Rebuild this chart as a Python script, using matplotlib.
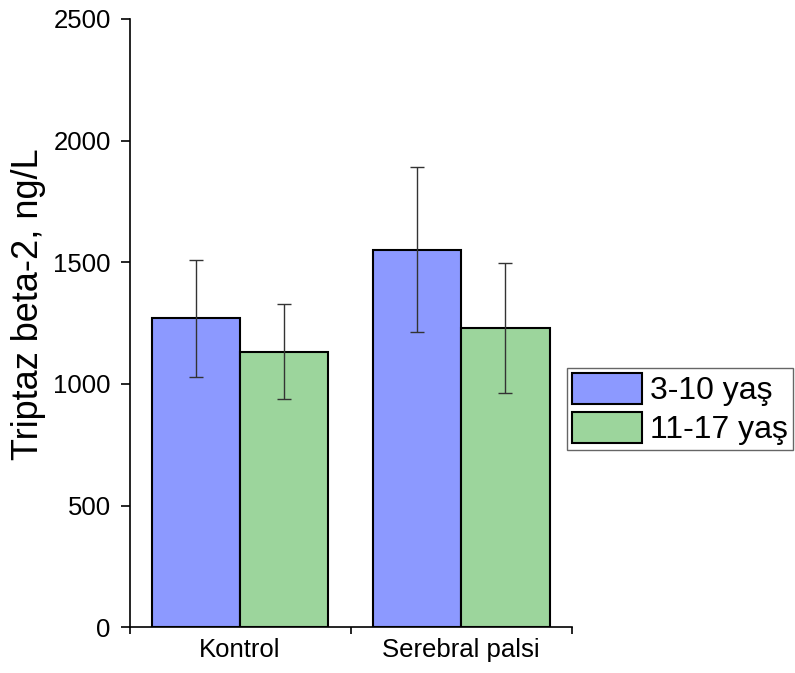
import numpy as np
import matplotlib
matplotlib.use("Agg")
import matplotlib.pyplot as plt

plt.rcParams["font.family"] = ["Liberation Sans", "DejaVu Sans"]

# veriler
gruplar = ["Kontrol", "Serebral palsi"]
yas_etiketleri = ["3-10 yaş", "11-17 yaş"]
ort_3_10 = [1270, 1552]
ort_11_17 = [1133, 1228]
sd_3_10 = [240, 338]
sd_11_17 = [195, 267]
renkler = ["#8c99ff", "#9cd59c"]

fig = plt.figure(figsize=(7.95, 6.73), dpi=100)
ax = fig.add_axes([0.163, 0.068, 0.556, 0.904])

x = np.arange(1, len(gruplar) + 1)
w = 0.4
for i, (ort, sd) in enumerate([(ort_3_10, sd_3_10), (ort_11_17, sd_11_17)]):
    pos = x - w / 2 + i * w
    ax.bar(pos, ort, width=w, color=renkler[i], edgecolor="black",
           linewidth=1.5, label=yas_etiketleri[i], zorder=2)
    ax.errorbar(pos, ort, yerr=sd, fmt="none", ecolor="#333333",
                elinewidth=1, capsize=4.7, capthick=1, zorder=3)

ax.set_xlim(0.5, 2.5)
ax.set_ylim(0, 2500)
ax.set_yticks(range(0, 2501, 500))
ax.set_xticks([0.5, 1.5, 2.5])
ax.set_xticklabels([])
ax.set_xticks(x, minor=True)
ax.set_xticklabels(gruplar, minor=True, fontsize=18.5)
ax.tick_params(axis="x", which="minor", length=0, pad=8)
ax.tick_params(axis="x", which="major", direction="out", length=5, width=1.2)
ax.tick_params(axis="y", direction="out", length=6.5, width=1.2, labelsize=18.5, pad=7)

for s in ["top", "right"]:
    ax.spines[s].set_visible(False)
for s in ["left", "bottom"]:
    ax.spines[s].set_linewidth(1.2)

fig.text(29 / 795, 1 - 304 / 673, "Triptaz beta-2, ng/L", rotation=90,
         ha="center", va="center", fontsize=26)

leg = ax.legend(loc="upper left", bbox_to_anchor=(567 / 795, 1 - 368 / 673),
                bbox_transform=fig.transFigure, fontsize=23, frameon=True,
                fancybox=False, framealpha=1, edgecolor="#666666",
                borderaxespad=0, borderpad=0.16, handlelength=2.2,
                handleheight=1.1, handletextpad=0.25, labelspacing=0.18)
leg.get_frame().set_linewidth(1)

fig.savefig("out.png", dpi=100)
